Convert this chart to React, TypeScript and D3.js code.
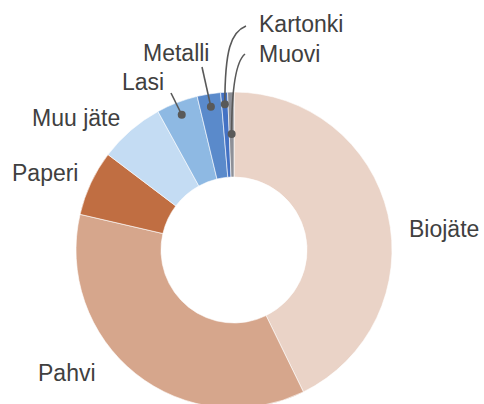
import React from "react";
import * as d3 from "d3";

const categories = ["Biojäte", "Pahvi", "Paperi", "Muu jäte", "Lasi", "Metalli", "Kartonki", "Muovi"];
const values = [42.8, 35.9, 6.7, 6.7, 4.25, 2.4, 0.7, 0.65];
const colors = ["#EAD3C7", "#D6A68C", "#C06E42", "#C4DCF3", "#8EB9E3", "#5A8ACB", "#4472C4", "#8E9097"];

// label layout (text anchor point = left/baseline), optional leader start
const labelX = [409, 38, 12, 32, 122, 143, 259, 259];
const labelY = [237, 381, 181, 126, 90, 61, 32, 62];
const leaderStart: (null | [number, number])[] = [null, null, null, null, [171, 93], [202, 67], [246, 26], [245, 54]];
const leaderCurved = [false, false, false, false, false, false, true, true];
const dotRadius = [0, 0, 0, 0, 145, 145, 146, 116];

const W = 484, H = 404;
const cx = 234, cy = 250;
const R = 158, r = 73;

export default function App() {
  const data = categories.map((c, i) => ({ c, v: values[i], i }));
  const pie = d3.pie<any>().value((d: any) => d.v).sort(null).startAngle(0).endAngle(2 * Math.PI);
  const arcs = pie(data);
  const arc = d3.arc<any>().innerRadius(r).outerRadius(R);

  return (
    <svg width={W} height={H} style={{ position: "absolute", left: 0, top: 0, background: "#fff" }}>
      <g transform={`translate(${cx},${cy})`}>
        {arcs.map((a, i) => (
          <path key={i} d={arc(a) || ""} fill={colors[i]} stroke="#fff" strokeWidth={0.6} />
        ))}
      </g>
      {arcs.map((a, i) => {
        const ls = leaderStart[i];
        if (!ls) return null;
        const dArc = d3.arc<any>().innerRadius(dotRadius[i]).outerRadius(dotRadius[i]);
        const [dx, dy] = dArc.centroid(a);
        const px = cx + dx, py = cy + dy;
        let path: string;
        if (leaderCurved[i]) {
          const p = d3.path();
          p.moveTo(ls[0], ls[1]);
          p.bezierCurveTo(px + 6, ls[1] + 6, px, ls[1] + 24, px, py);
          path = p.toString();
        } else {
          path = `M${ls[0]},${ls[1]}L${px},${py}`;
        }
        return (
          <g key={"l" + i}>
            <path d={path} fill="none" stroke="#595959" strokeWidth={1.6} />
            <circle cx={px} cy={py} r={4} fill="#595959" />
          </g>
        );
      })}
      {categories.map((c, i) => (
        <text key={"t" + i} x={labelX[i]} y={labelY[i]} fontFamily="Liberation Sans, Arial, sans-serif" fontSize={23} fill="#404040">
          {c}
        </text>
      ))}
    </svg>
  );
}
